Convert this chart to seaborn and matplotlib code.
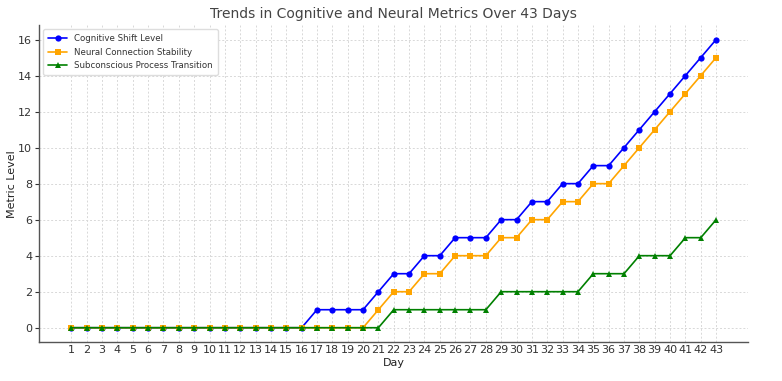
import matplotlib
matplotlib.use("Agg")
import matplotlib.pyplot as plt
import seaborn as sns
import pandas as pd

days = list(range(1, 44))
cognitive = [0]*16 + [1, 1, 1, 1, 2, 3, 3, 4, 4, 5, 5, 5, 6, 6, 7, 7, 8, 8, 9, 9, 10, 11, 12, 13, 14, 15, 16]
neural = [0]*20 + [1, 2, 2, 3, 3, 4, 4, 4, 5, 5, 6, 6, 7, 7, 8, 8, 9, 10, 11, 12, 13, 14, 15]
subconscious = [0]*21 + [1]*7 + [2]*6 + [3]*3 + [4]*3 + [5, 5, 6]

series = [
    ("Cognitive Shift Level", cognitive, "blue", "o"),
    ("Neural Connection Stability", neural, "orange", "s"),
    ("Subconscious Process Transition", subconscious, "green", "^"),
]

sns.set_style("white")
plt.rcParams['font.family'] = ['DejaVu Sans']

fig = plt.figure(figsize=(7.82, 3.81), dpi=100)
ax = fig.add_axes([0.050, 0.102, 0.907, 0.832])

for name, vals, color, marker in series:
    df = pd.DataFrame({"Day": days, "Value": vals})
    sns.lineplot(data=df, x="Day", y="Value", ax=ax, color=color, marker=marker,
                 markersize=4.5, markeredgewidth=0, linewidth=1.2, label=name)

ax.set_xticks(days)
ax.set_xticklabels([str(d) for d in days], fontsize=8, color="#333333")
ax.tick_params(axis="y", labelsize=8, colors="#333333", length=3, width=0.8, left=True, pad=2)
ax.tick_params(axis="x", length=0, pad=2)
ax.set_yticks(range(0, 17, 2))
ax.set_xlim(-1.1, 45.1)
ax.set_ylim(-0.8, 16.8)
ax.grid(True, linestyle=(0, (2, 2)), color="#d8d8d8", linewidth=0.7)
for s in ["top", "right"]:
    ax.spines[s].set_visible(False)
for s in ["left", "bottom"]:
    ax.spines[s].set_color("#555555")
    ax.spines[s].set_linewidth(1.0)
ax.set_xlabel("Day", fontsize=8, color="#222222", labelpad=2)
ax.set_ylabel("Metric Level", fontsize=8, color="#222222", labelpad=1)
ax.set_title("Trends in Cognitive and Neural Metrics Over 43 Days", fontsize=10, color="#444444", pad=5)
leg = ax.legend(loc="upper left", fontsize=6.25, frameon=True, borderpad=0.55, labelspacing=0.5,
                handlelength=2.2, framealpha=1)
leg.get_frame().set_edgecolor("#dddddd")
for t in leg.get_texts():
    t.set_color("#333333")

fig.savefig("out.png", dpi=100)
